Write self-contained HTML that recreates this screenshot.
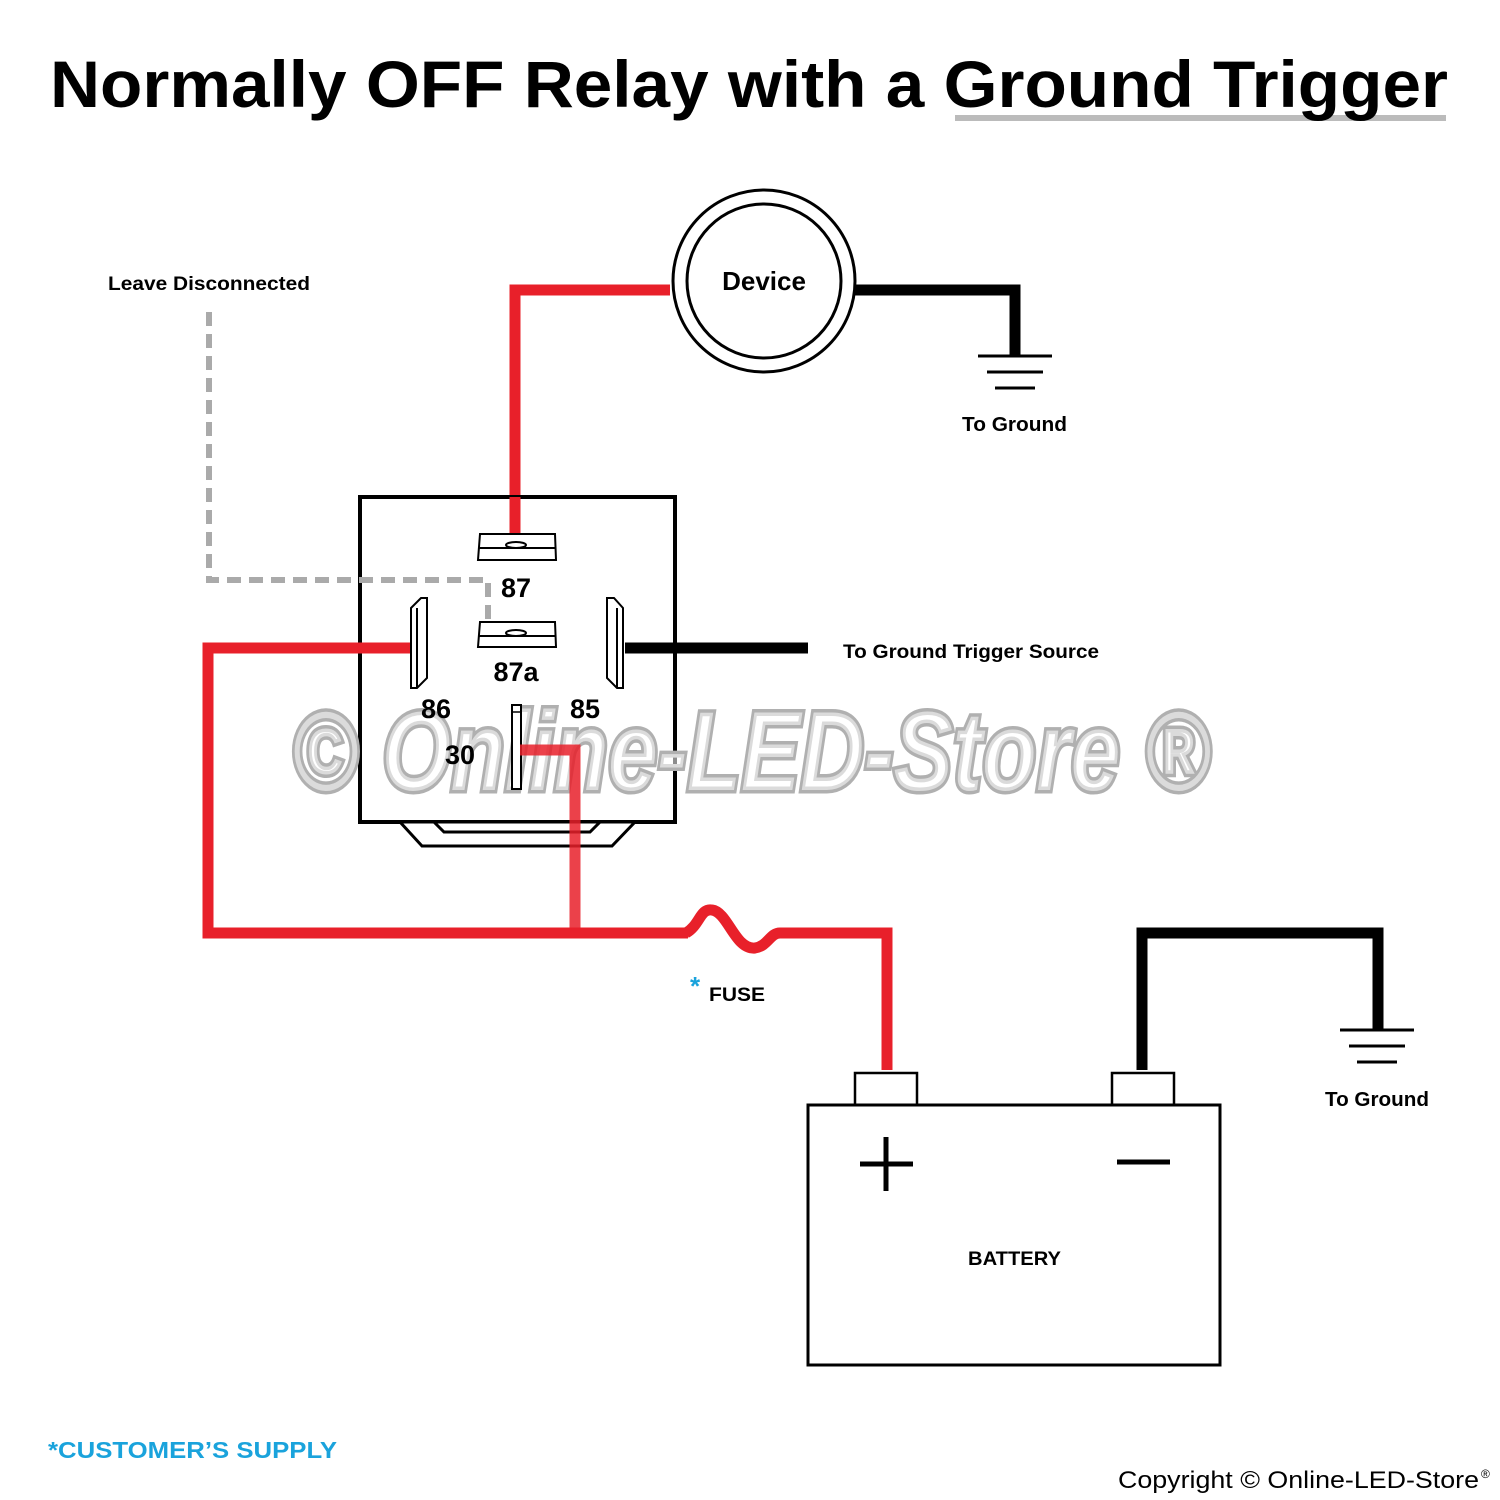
<!DOCTYPE html>
<html><head><style>body{margin:0;background:#fff}svg{display:block}</style></head><body>
<svg width="1500" height="1500" viewBox="0 0 1500 1500" xmlns="http://www.w3.org/2000/svg" font-family="Liberation Sans, sans-serif">
<rect width="1500" height="1500" fill="#fff"/>
<line x1="955" y1="118" x2="1446" y2="118" stroke="#bbb" stroke-width="6"/>
<text x="50" y="107" font-size="66" font-weight="bold" textLength="1398" lengthAdjust="spacingAndGlyphs">Normally OFF Relay with a Ground Trigger</text>
<!-- device -->
<polyline points="670,290 515,290 515,542" fill="none" stroke="#e8202a" stroke-width="11"/>
<polyline points="855,290 1015,290 1015,356" fill="none" stroke="#000" stroke-width="11"/>
<circle cx="764" cy="281" r="91" fill="#fff" stroke="#000" stroke-width="3"/>
<circle cx="764" cy="281" r="77" fill="#fff" stroke="#000" stroke-width="3"/>
<text x="764" y="290" font-size="26" font-weight="bold" text-anchor="middle">Device</text>
<g stroke="#000" stroke-width="3"><line x1="978" y1="356" x2="1052" y2="356"/><line x1="987" y1="372" x2="1043" y2="372"/><line x1="995" y1="388" x2="1035" y2="388"/></g>
<text x="962" y="431" font-size="20" font-weight="bold" textLength="105" lengthAdjust="spacingAndGlyphs">To Ground</text>
<text x="108" y="290" font-size="19" font-weight="bold" textLength="202" lengthAdjust="spacingAndGlyphs">Leave Disconnected</text>
<!-- relay -->
<rect x="360" y="497" width="315" height="325" fill="#fff" stroke="#000" stroke-width="4"/>
<polygon points="400,822 635,822 612,846 422,846" fill="#fff" stroke="#000" stroke-width="3"/>
<polygon points="434,822 600,822 590,832 444,832" fill="#fff" stroke="#000" stroke-width="3"/>
<!-- watermark -->
<text x="292" y="790" font-size="112" font-weight="bold" font-style="italic" fill="rgba(255,255,255,0.55)" stroke="#b0b0b0" stroke-width="7" paint-order="stroke" textLength="918" lengthAdjust="spacingAndGlyphs">© Online-LED-Store ®</text>
<polyline points="209,312 209,580 488,580 488,622" fill="none" stroke="#aaa" stroke-width="6" stroke-dasharray="14,8"/>
<line x1="515" y1="497" x2="515" y2="542" stroke="#e8202a" stroke-width="11"/>
<!-- 87 terminal -->
<polygon points="480,534 555,534 556,560 478,560" fill="#fff" stroke="#000" stroke-width="2"/>
<line x1="478" y1="548" x2="556" y2="548" stroke="#000" stroke-width="2"/>
<ellipse cx="516" cy="545" rx="10" ry="3" fill="#fff" stroke="#000" stroke-width="2"/>
<text x="516" y="597" font-size="27" font-weight="bold" text-anchor="middle">87</text>
<polygon points="480,622 555,622 556,647 478,647" fill="#fff" stroke="#000" stroke-width="2"/>
<line x1="478" y1="636" x2="556" y2="636" stroke="#000" stroke-width="2"/>
<ellipse cx="516" cy="633" rx="10" ry="3" fill="#fff" stroke="#000" stroke-width="2"/>
<text x="516" y="681" font-size="27" font-weight="bold" text-anchor="middle">87a</text>
<!-- 86/85 -->
<polyline points="410,648 208,648 208,933 688,933" fill="none" stroke="#e8202a" stroke-width="11"/>
<polygon points="411,608 421,598 427,598 427,678 417,688 411,688" fill="#fff" stroke="#000" stroke-width="2"/>
<line x1="417" y1="608" x2="417" y2="688" stroke="#000" stroke-width="2"/>
<line x1="625" y1="648" x2="808" y2="648" stroke="#000" stroke-width="11"/>
<polygon points="607,598 614,598 623,608 623,688 617,688 607,678" fill="#fff" stroke="#000" stroke-width="2"/>
<line x1="617" y1="608" x2="617" y2="688" stroke="#000" stroke-width="2"/>
<text x="436" y="718" font-size="27" font-weight="bold" text-anchor="middle">86</text>
<text x="585" y="718" font-size="27" font-weight="bold" text-anchor="middle">85</text>
<text x="460" y="764" font-size="27" font-weight="bold" text-anchor="middle">30</text>
<rect x="512" y="705" width="9" height="84" fill="#fff" stroke="#000" stroke-width="2"/>
<line x1="512" y1="712" x2="521" y2="712" stroke="#000" stroke-width="1.5"/>
<polyline points="520,750 575,750 575,933" fill="none" stroke="#e8202a" stroke-width="11" opacity="0.85"/>
<!-- fuse -->
<path d="M686,933 C700,925 700,908 712,910 C728,912 735,950 755,948 C768,946 770,933 780,933 L887,933 L887,1070" fill="none" stroke="#e8202a" stroke-width="11"/>
<text x="690" y="995" font-size="26" font-weight="bold" fill="#1aa3dc">*</text>
<text x="709" y="1001" font-size="19" font-weight="bold" textLength="56" lengthAdjust="spacingAndGlyphs">FUSE</text>
<text x="843" y="658" font-size="19" font-weight="bold" textLength="256" lengthAdjust="spacingAndGlyphs">To Ground Trigger Source</text>
<!-- battery -->
<polyline points="1142,1070 1142,933 1378,933 1378,1030" fill="none" stroke="#000" stroke-width="11"/>
<g stroke="#000" stroke-width="3"><line x1="1340" y1="1030" x2="1414" y2="1030"/><line x1="1349" y1="1046" x2="1405" y2="1046"/><line x1="1357" y1="1062" x2="1397" y2="1062"/></g>
<text x="1325" y="1106" font-size="20" font-weight="bold" textLength="104" lengthAdjust="spacingAndGlyphs">To Ground</text>
<rect x="855" y="1073" width="62" height="32" fill="#fff" stroke="#000" stroke-width="2.5"/>
<rect x="1112" y="1073" width="62" height="32" fill="#fff" stroke="#000" stroke-width="2.5"/>
<rect x="808" y="1105" width="412" height="260" fill="#fff" stroke="#000" stroke-width="3"/>
<line x1="860" y1="1164" x2="913" y2="1164" stroke="#000" stroke-width="5"/>
<line x1="886" y1="1137" x2="886" y2="1191" stroke="#000" stroke-width="5"/>
<line x1="1117" y1="1162" x2="1170" y2="1162" stroke="#000" stroke-width="5"/>
<text x="968" y="1265" font-size="19" font-weight="bold" textLength="93" lengthAdjust="spacingAndGlyphs">BATTERY</text>
<text x="48" y="1458" font-size="23" font-weight="bold" fill="#1aa3dc" textLength="289" lengthAdjust="spacingAndGlyphs">*CUSTOMER’S SUPPLY</text>
<text x="1118" y="1488" font-size="24" textLength="361" lengthAdjust="spacingAndGlyphs">Copyright © Online-LED-Store</text>
<text x="1481" y="1478" font-size="12">®</text>
</svg>
</body></html>
